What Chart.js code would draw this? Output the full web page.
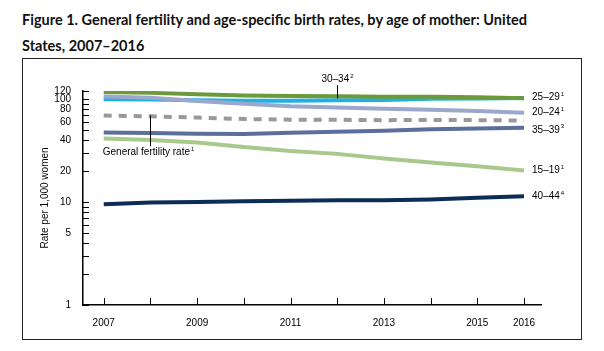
<!DOCTYPE html>
<html>
<head>
<meta charset="utf-8">
<script src="https://cdn.jsdelivr.net/npm/chart.js@4"></script>
<style>
  html, body { margin: 0; padding: 0; background: #fff; }
  body { width: 604px; height: 351px; position: relative; overflow: hidden; }
  #title { position: absolute; left: 22px; top: 7px; width: 520px; font-family: Lato, "Open Sans", sans-serif; font-weight: bold; font-size: 14.5px; line-height: 26px; color: #111; }
  #box { position: absolute; left: 22px; top: 58px; width: 558px; height: 280px; border: 1px solid #222; pointer-events: none; }
  #wrap { position: absolute; left: 0; top: 0; width: 604px; height: 351px; }
</style>
</head>
<body>
<div id="title">Figure 1. General fertility and age-specific birth rates, by age of mother: United<br>States, 2007–2016</div>
<div id="wrap"><canvas id="c" width="604" height="351"></canvas></div>
<div id="box"></div>
<script>
const years = [2007, 2008, 2009, 2010, 2011, 2012, 2013, 2014, 2015, 2016];
const labeledYears = [2007, 2009, 2011, 2013, 2015, 2016];
const yTickValues = [1, 2, 3, 4, 5, 6, 7, 8, 9, 10, 20, 30, 40, 50, 60, 70, 80, 90, 100, 120];
const yTickLabels = [1, 5, 10, 20, 40, 60, 80, 100, 120];

const rate25to29 = [117.5, 115.1, 111.5, 108.3, 107.2, 106.5, 105.5, 105.8, 104.3, 102.1];
const rate30to34 = [99.9, 99.3, 97.5, 96.5, 96.5, 97.3, 98.0, 100.8, 101.5, 102.7];
const rate20to24 = [106.3, 103.0, 96.2, 90.0, 85.3, 83.1, 80.7, 79.0, 76.8, 73.8];
const generalFertility = [69.3, 68.1, 66.2, 64.1, 63.2, 63.0, 62.5, 62.9, 62.5, 62.0];
const rate35to39 = [47.5, 46.8, 46.1, 45.9, 47.2, 48.3, 49.3, 51.0, 51.8, 52.7];
const rate15to19 = [41.5, 40.2, 37.9, 34.2, 31.3, 29.4, 26.5, 24.2, 22.3, 20.3];
const rate40to44 = [9.5, 9.9, 10.0, 10.2, 10.3, 10.4, 10.4, 10.6, 11.0, 11.4];

const toXY = arr => arr.map((v, i) => ({ x: years[i], y: v }));

// first entry is drawn on top
const series = [
  { key: '25to29', label: '25–29', sup: '1', data: rate25to29, color: '#6c9a3b', dy: -1 },
  { key: '20to24', label: '20–24', sup: '1', data: rate20to24, color: '#9ba8cb', dy: 0 },
  { key: '30to34', label: '30–34', sup: '2', data: rate30to34, color: '#1fb0e6' },
  { key: 'gfr', label: 'General fertility rate', sup: '1', data: generalFertility, color: '#999999', dash: [8, 7] },
  { key: '35to39', label: '35–39', sup: '3', data: rate35to39, color: '#5c6f9c', dy: 2 },
  { key: '40to44', label: '40–44', sup: '4', data: rate40to44, color: '#0d2c56', dy: 0 },
  { key: '15to19', label: '15–19', sup: '1', data: rate15to19, color: '#a9c98c', dy: 0 }
];

const FONT = '"Liberation Sans", Arial, sans-serif';

function drawSupText(ctx, text, sup, x, y, align) {
  ctx.font = '10px ' + FONT;
  const w = ctx.measureText(text).width;
  ctx.font = '6px ' + FONT;
  const sw = ctx.measureText(sup).width;
  let left = x;
  if (align === 'center') left = x - (w + sw + 1) / 2;
  ctx.textBaseline = 'middle';
  ctx.textAlign = 'left';
  ctx.font = '10px ' + FONT;
  ctx.fillText(text, left, y);
  ctx.font = '6px ' + FONT;
  ctx.fillText(sup, left + w + 1, y - 3);
}

const annotate = {
  id: 'annotate',
  afterDraw(chart) {
    const ctx = chart.ctx;
    const xs = chart.scales.x, ys = chart.scales.y;
    const area = chart.chartArea;
    ctx.save();
    ctx.strokeStyle = '#000';
    ctx.lineWidth = 1;
    yTickValues.forEach(v => {
      const py = Math.round(ys.getPixelForValue(v)) + 0.5;
      ctx.beginPath();
      ctx.moveTo(area.left, py);
      ctx.lineTo(area.left + 6, py);
      ctx.stroke();
    });
    years.forEach(v => {
      const px = Math.round(xs.getPixelForValue(v)) + 0.5;
      ctx.beginPath();
      ctx.moveTo(px, area.bottom);
      ctx.lineTo(px, area.bottom - 7);
      ctx.stroke();
    });
    ctx.fillStyle = '#000';
    const last = years.length - 1;
    const xr = xs.getPixelForValue(years[last]) + 8;
    series.forEach(s => {
      if (s.key === 'gfr' || s.key === '30to34') return;
      const py = ys.getPixelForValue(s.data[last]) + (s.dy || 0);
      drawSupText(ctx, s.label, s.sup, xr, py, 'left');
    });
    const s3034 = series.find(s => s.key === '30to34');
    const i34 = years.indexOf(2012);
    const x34 = Math.round(xs.getPixelForValue(2012)) + 0.5;
    const y34 = ys.getPixelForValue(s3034.data[i34]);
    ctx.beginPath();
    ctx.moveTo(x34, y34 - 2);
    ctx.lineTo(x34, y34 - 15);
    ctx.stroke();
    drawSupText(ctx, s3034.label, s3034.sup, x34, y34 - 21, 'center');
    const sg = series.find(s => s.key === 'gfr');
    const ig = years.indexOf(2008);
    const xg = Math.round(xs.getPixelForValue(2008)) + 0.5;
    const yg = ys.getPixelForValue(sg.data[ig]);
    ctx.beginPath();
    ctx.moveTo(xg, yg - 1);
    ctx.lineTo(xg, yg + 30);
    ctx.stroke();
    drawSupText(ctx, sg.label, sg.sup, xs.getPixelForValue(2007) - 1, yg + 36, 'left');
    ctx.restore();
  }
};

new Chart(document.getElementById('c'), {
  type: 'line',
  data: {
    datasets: series.map(s => ({
      label: s.label,
      data: toXY(s.data),
      borderColor: s.color,
      backgroundColor: s.color,
      borderWidth: 4,
      borderDash: s.dash || [],
      pointRadius: 0,
      tension: 0,
      fill: false
    }))
  },
  options: {
    responsive: false,
    animation: false,
    devicePixelRatio: 1,
    layout: { padding: { left: 0, right: 63, top: 91, bottom: 16 } },
    plugins: { legend: { display: false }, tooltip: { enabled: false }, title: { display: false } },
    scales: {
      x: {
        type: 'linear',
        min: 2006.556,
        max: 2016.364,
        afterBuildTicks: sc => { sc.ticks = years.map(v => ({ value: v })); },
        afterFit: sc => { sc.height = 30; },
        grid: { display: false, drawTicks: false },
        border: { display: true, color: '#000', width: 1.5 },
        ticks: {
          autoSkip: false, maxRotation: 0, padding: 12,
          color: '#000', font: { family: FONT, size: 10 },
          callback: v => labeledYears.includes(v) ? String(v) : ''
        }
      },
      y: {
        type: 'logarithmic',
        min: 1,
        max: 120,
        afterBuildTicks: sc => { sc.ticks = yTickValues.map(v => ({ value: v })); },
        afterFit: sc => { sc.width = 83; },
        grid: { display: false, drawTicks: false },
        border: { display: true, color: '#000', width: 1.5 },
        ticks: {
          autoSkip: false, padding: 12,
          color: '#000', font: { family: FONT, size: 10 },
          callback: v => yTickLabels.includes(v) ? String(v) : ''
        },
        title: {
          display: true, text: 'Rate per 1,000 women', color: '#000',
          font: { family: FONT, size: 10 }, padding: { top: 39, bottom: 0 }
        }
      }
    }
  },
  plugins: [annotate]
});
</script>
</body>
</html>
